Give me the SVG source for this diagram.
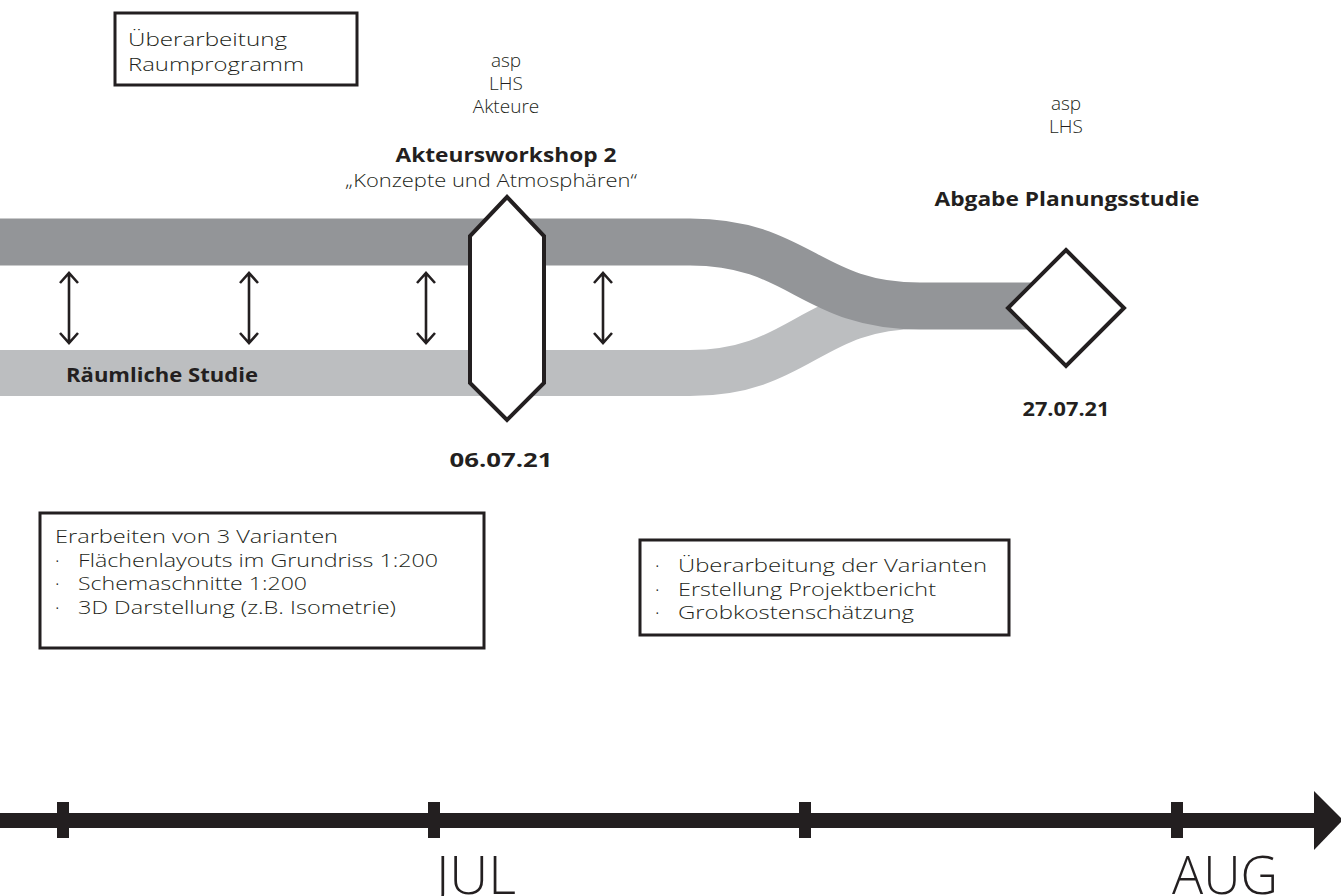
<svg xmlns="http://www.w3.org/2000/svg" width="1341" height="896" viewBox="0 0 1341 896">
<style>
.lt{font-family:"Open Sans","Liberation Sans",sans-serif;font-weight:300;font-size:19px;fill:#231f20}
.bd{font-family:"Open Sans","Liberation Sans",sans-serif;font-weight:700;font-size:19px;fill:#231f20}
.box{fill:#fff;stroke:#231f20;stroke-width:3}
.shape{fill:#fff;stroke:#231f20;stroke-width:4;stroke-linejoin:miter}
.arr{fill:none;stroke:#231f20;stroke-width:2.6}
.mon{font-family:"Open Sans","Liberation Sans",sans-serif;font-weight:300;font-size:54px;fill:#231f20}
</style>
<rect width="1341" height="896" fill="#fff"/>
<g id="bands">
<path d="M-10,373 H690 C800,373 810,306 920,306 H1060" fill="none" stroke="#bcbec0" stroke-width="46"/>
<path d="M-10,242 H690 C800,242 810,306 920,306 H1060" fill="none" stroke="#939598" stroke-width="47"/>
<text class="bd" x="66" y="382" textLength="192" lengthAdjust="spacingAndGlyphs">Räumliche Studie</text>
</g>
<g id="connectors">
<path class="arr" d="M69,273 V343 M60,283 L69,273 L78,283 M60,333 L69,343 L78,333"/>
<path class="arr" d="M249,273 V343 M240,283 L249,273 L258,283 M240,333 L249,343 L258,333"/>
<path class="arr" d="M426,273 V343 M417,283 L426,273 L435,283 M417,333 L426,343 L435,333"/>
<path class="arr" d="M603,273 V343 M594,283 L603,273 L612,283 M594,333 L603,343 L612,333"/>
</g>
<g id="box-raumprogramm">
<rect class="box" x="115" y="13" width="242" height="72"/>
<text class="lt"><tspan x="128" y="46" textLength="159" lengthAdjust="spacingAndGlyphs">Überarbeitung</tspan><tspan x="128" y="71" textLength="176" lengthAdjust="spacingAndGlyphs">Raumprogramm</tspan></text>
</g>
<g id="workshop">
<text class="lt" text-anchor="middle"><tspan x="506" y="67">asp</tspan><tspan x="506" y="90">LHS</tspan><tspan x="506" y="113">Akteure</tspan></text>
<text class="bd" x="506" y="162" text-anchor="middle" textLength="221" lengthAdjust="spacingAndGlyphs">Akteursworkshop 2</text>
<text class="lt" x="491" y="187" text-anchor="middle" textLength="292" lengthAdjust="spacingAndGlyphs">„Konzepte und Atmosphären“</text>
<polygon class="shape" points="507,197 544,236 544,383 507,420 470,383 470,236"/>
<text class="bd" x="501" y="467" text-anchor="middle" textLength="103" lengthAdjust="spacingAndGlyphs">06.07.21</text>
</g>
<g id="abgabe">
<text class="lt" text-anchor="middle"><tspan x="1066" y="110">asp</tspan><tspan x="1066" y="133">LHS</tspan></text>
<text class="bd" x="1067" y="206" text-anchor="middle" textLength="265" lengthAdjust="spacingAndGlyphs">Abgabe Planungsstudie</text>
<polygon class="shape" points="1066,250 1124,308 1066,366 1008,308"/>
<text class="bd" x="1066" y="416" text-anchor="middle" textLength="87" lengthAdjust="spacingAndGlyphs">27.07.21</text>
</g>
<g id="box-varianten">
<rect class="box" x="40" y="513" width="444" height="135"/>
<text class="lt"><tspan x="55" y="543" textLength="283" lengthAdjust="spacingAndGlyphs">Erarbeiten von 3 Varianten</tspan><tspan x="55" y="567">·</tspan><tspan x="78" y="567" textLength="360" lengthAdjust="spacingAndGlyphs">Flächenlayouts im Grundriss 1:200</tspan><tspan x="55" y="590">·</tspan><tspan x="78" y="590" textLength="229" lengthAdjust="spacingAndGlyphs">Schemaschnitte 1:200</tspan><tspan x="55" y="614">·</tspan><tspan x="78" y="614" textLength="318" lengthAdjust="spacingAndGlyphs">3D Darstellung (z.B. Isometrie)</tspan></text>
</g>
<g id="box-ueberarbeitung">
<rect class="box" x="640" y="540" width="369" height="95"/>
<text class="lt"><tspan x="655" y="572">·</tspan><tspan x="678" y="572" textLength="309" lengthAdjust="spacingAndGlyphs">Überarbeitung der Varianten</tspan><tspan x="655" y="596">·</tspan><tspan x="678" y="596" textLength="258" lengthAdjust="spacingAndGlyphs">Erstellung Projektbericht</tspan><tspan x="655" y="619">·</tspan><tspan x="678" y="619" textLength="236" lengthAdjust="spacingAndGlyphs">Grobkostenschätzung</tspan></text>
</g>
<g id="timeline">
<rect x="0" y="813" width="1318" height="15" fill="#231f20"/>
<rect x="57" y="802" width="12" height="36" fill="#231f20"/>
<rect x="428" y="802" width="12" height="36" fill="#231f20"/>
<rect x="799" y="802" width="12" height="36" fill="#231f20"/>
<rect x="1171" y="802" width="12" height="36" fill="#231f20"/>
<polygon points="1314,791 1343,820 1314,850" fill="#231f20"/>
<text class="mon" x="436" y="894" textLength="80" lengthAdjust="spacingAndGlyphs">JUL</text>
<text class="mon" x="1172" y="894" textLength="106" lengthAdjust="spacingAndGlyphs">AUG</text>
</g>
</svg>
